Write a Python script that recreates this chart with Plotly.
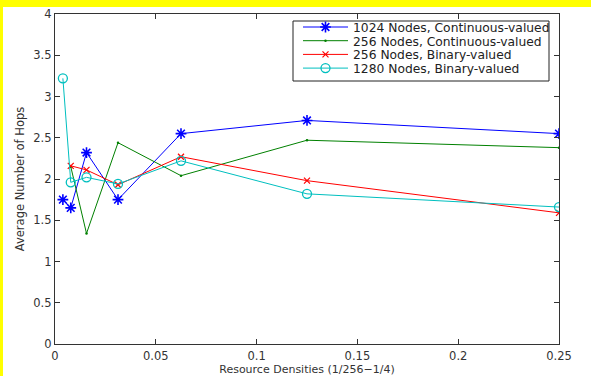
import plotly.graph_objects as go

x_all = [1/256, 1/128, 1/64, 1/32, 1/16, 1/8, 1/4]
x_green = [1/128, 1/64, 1/32, 1/16, 1/8, 1/4]
x_red = [1/128, 1/64, 1/32, 1/16, 1/8, 1/4]

blue_1024_cont = [1.75, 1.65, 2.32, 1.75, 2.55, 2.71, 2.55]
green_256_cont = [2.15, 1.34, 2.44, 2.04, 2.47, 2.38]
red_256_bin = [2.16, 2.11, 1.93, 2.27, 1.98, 1.59]
cyan_1280_bin = [3.22, 1.96, 2.02, 1.94, 2.22, 1.82, 1.66]

names = ["1024 Nodes, Continuous-valued", "256 Nodes, Continuous-valued",
         "256 Nodes, Binary-valued", "1280 Nodes, Binary-valued"]

x_ticks = [0, 0.05, 0.1, 0.15, 0.2, 0.25]
x_ticklabels = ["0", "0.05", "0.1", "0.15", "0.2", "0.25"]
y_ticks = [0, 0.5, 1, 1.5, 2, 2.5, 3, 3.5, 4]
y_ticklabels = ["0", "0.5", "1", "1.5", "2", "2.5", "3", "3.5", "4"]

FONT = "DejaVu Sans, Verdana, sans-serif"
TXT = "#333333"

fig = go.Figure()
fig.add_trace(go.Scatter(x=x_all, y=blue_1024_cont, name=names[0], mode="lines+markers",
                         legend="legend",
                         line=dict(color="#0000ff", width=1),
                         marker=dict(symbol="asterisk-open", size=9,
                                     line=dict(color="#0000ff", width=1.6))))
fig.add_trace(go.Scatter(x=x_green, y=green_256_cont, name=names[1], mode="lines+markers",
                         legend="legend2",
                         line=dict(color="#008000", width=1),
                         marker=dict(symbol="circle", size=2.5, color="#008000")))
fig.add_trace(go.Scatter(x=x_red, y=red_256_bin, name=names[2], mode="lines+markers",
                         legend="legend3",
                         line=dict(color="#ff0000", width=1),
                         marker=dict(symbol="x-thin-open", size=6,
                                     line=dict(color="#ff0000", width=1.2))))
fig.add_trace(go.Scatter(x=x_all, y=cyan_1280_bin, name=names[3], mode="lines+markers",
                         legend="legend4",
                         line=dict(color="#00bfbf", width=1),
                         marker=dict(symbol="circle-open", size=9,
                                     line=dict(color="#00bfbf", width=1.3))))

axis_common = dict(showline=True, linecolor="#333333", linewidth=1.2, mirror="ticks",
                   ticks="inside", ticklen=5, tickcolor="#333333", showgrid=False,
                   zeroline=False, automargin=False,
                   tickfont=dict(family=FONT, size=11.5, color=TXT))

fig.update_xaxes(range=[0, 0.25], tickvals=x_ticks, ticktext=x_ticklabels,
                 ticklabelstandoff=1,
                 title=dict(text="Resource Densities (1/256\u22121/4)", standoff=3,
                            font=dict(family=FONT, size=11, color=TXT)),
                 **axis_common)
fig.update_yaxes(range=[0, 4], tickvals=y_ticks, ticktext=y_ticklabels,
                 title=dict(text="Average Number of Hops", standoff=6,
                            font=dict(family=FONT, size=11.5, color=TXT)),
                 **axis_common)

# pixel helpers for the plot area (l=55, t=14, w=504, h=330)
L, T, W, H = 55, 14, 504, 330
def px(xp):
    return (xp - L) / W
def py(yp):
    return (T + H - yp) / H

row_y = [27.0, 40.7, 54.4, 68.1]
leg_common = dict(xanchor="left", yanchor="middle", bgcolor="rgba(0,0,0,0)",
                  borderwidth=0, font=dict(family=FONT, size=12.3, color="#222222"),
                  itemwidth=45)
legends = {}
for i, key in enumerate(["legend", "legend2", "legend3", "legend4"]):
    legends[key] = dict(x=px(298), y=py(row_y[i]), **leg_common)

fig.update_layout(
    width=591, height=376,
    showlegend=True,
    margin=dict(l=L, r=591 - L - W, t=T, b=376 - T - H, autoexpand=False),
    paper_bgcolor="white", plot_bgcolor="white",
    shapes=[
        dict(type="rect", xref="paper", yref="paper", x0=-0.3, x1=1.3,
             y0=py(7), y1=1.3, fillcolor="#ffff00", line=dict(width=0), layer="below"),
        dict(type="rect", xref="paper", yref="paper", x0=-0.3, x1=px(3),
             y0=-0.3, y1=1.3, fillcolor="#ffff00", line=dict(width=0), layer="below"),
        dict(type="rect", xref="paper", yref="paper", x0=px(293), x1=px(549),
             y0=py(81), y1=py(21), fillcolor="white",
             line=dict(color="#222222", width=1), layer="above"),
    ],
    **legends,
)

fig.write_html("out.html", config={"displayModeBar": False},
               post_script="document.body.style.margin='0px';")
